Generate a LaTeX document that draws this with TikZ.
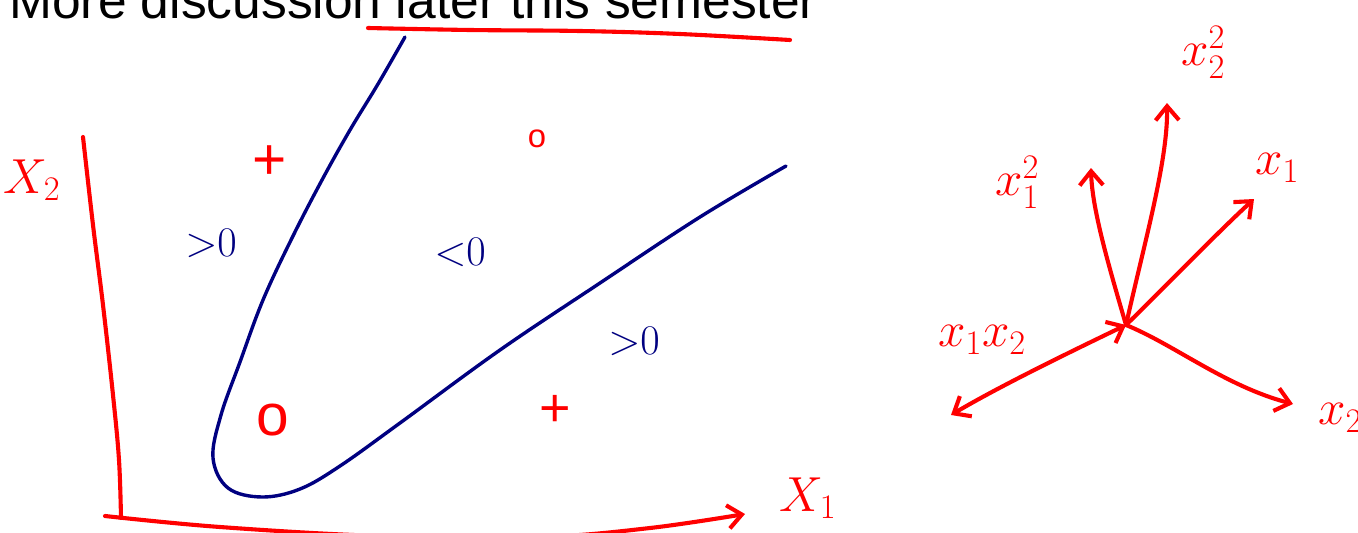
\RequirePackage{fix-cm}
\documentclass[tikz,border=0pt]{standalone}
\usepackage{fontspec}
\setmainfont{Liberation Sans}
\usepackage{tikz}
\usetikzlibrary{arrows.meta}
\definecolor{penRed}{HTML}{FF0000}
\definecolor{penBlue}{HTML}{000080}

\begin{document}
\begin{tikzpicture}[x=0.03cm, y=-0.03cm, >={Straight Barb[length=12pt,width=20pt]},
    redink/.style={draw=penRed, line width=3.5pt, line cap=round, line join=round},
    blueink/.style={draw=penBlue, line width=2.9pt, line cap=round, line join=round},
    redlabel/.style={text=penRed, inner sep=0pt, font=\fontsize{42}{50}\selectfont},
    bluelabel/.style={text=penBlue, inner sep=0pt, font=\fontsize{36}{42}\selectfont},
    markpt/.style={text=penRed, inner sep=0pt}]
    \useasboundingbox (0,0) rectangle (1358,533);
    \clip (0,0) rectangle (1358,533);

    % heading, cut at the top
    \node[anchor=base west, inner sep=0pt, font=\fontsize{44}{50}\selectfont] (title) at (9,18) {More discussion later this semester};
    \draw[redink] plot[smooth, tension=0.6] coordinates {(368,28) (470,30) (580,31) (680,34) (790,40)};

    % axes
    \coordinate (xtwoTop) at (83,137);
    \coordinate (origin) at (121,518);
    \coordinate (xoneTip) at (745,514);
    \draw[redink] plot[smooth, tension=0.6] coordinates {(xtwoTop) (93,225) (103,305) (113,395) (119,460) (origin)};
    \draw[redink,->] plot[smooth, tension=0.6] coordinates {(105,516) (220,527) (380,536) (540,537) (650,528) (xoneTip)};
    \node[redlabel] (lblXtwo) at (32,180) {$X_2$};
    \node[redlabel] (lblXone) at (808,498) {$X_1$};

    % decision boundary
    \draw[blueink] plot[smooth, tension=0.6] coordinates {(405,37) (378,84) (350,130) (322,180) (292,238) (263,300) (240,362) (221,415) (213,458) (228,488) (262,497) (300,489) (340,466) (400,423) (500,350) (600,283) (700,217) (786,166)};
    \node[bluelabel] (regA) at (211,243) {${>}0$};
    \node[bluelabel] (regB) at (460,252) {${<}0$};
    \node[bluelabel] (regC) at (634,341) {${>}0$};

    % samples
    \node[markpt, font=\fontsize{50}{56}\selectfont] (ptA) at (270,163) {+};
    \node[markpt, font=\fontsize{28}{32}\selectfont] (ptB) at (537,139) {o};
    \node[markpt, font=\fontsize{50}{56}\selectfont] (ptC) at (273,420) {o};
    \node[markpt, font=\fontsize{46}{52}\selectfont] (ptD) at (555,411) {+};

    % feature directions
    \coordinate (hub) at (1126,325);
    \coordinate (tipXoneSq) at (1091,168);
    \coordinate (tipXtwoSq) at (1167,103);
    \coordinate (tipXoneR) at (1254,199);
    \coordinate (tipXoneXtwo) at (951,415);
    \coordinate (tipXtwoR) at (1293,404);
    \draw[redink,->] (hub) .. controls (1110,270) and (1092,210) .. (tipXoneSq);
    \draw[redink,->] (hub) .. controls (1145,240) and (1168,160) .. (tipXtwoSq);
    \draw[redink,->] (hub) .. controls (1170,282) and (1215,235) .. (tipXoneR);
    \draw[redink,<->] (tipXoneXtwo) .. controls (1000,386) and (1070,352) .. (hub);
    \draw[redink,->] (hub) .. controls (1175,345) and (1225,386) .. (tipXtwoR);
    \node[redlabel] (lblXoneSq) at (1017,182) {$x_1^2$};
    \node[redlabel] (lblXtwoSq) at (1203,52) {$x_2^2$};
    \node[redlabel] (lblXoneR) at (1277,168) {$x_1$};
    \node[redlabel] (lblXoneXtwo) at (982,340) {$x_1x_2$};
    \node[redlabel] (lblXtwoR) at (1340,418) {$x_2$};
\end{tikzpicture}
\end{document}
